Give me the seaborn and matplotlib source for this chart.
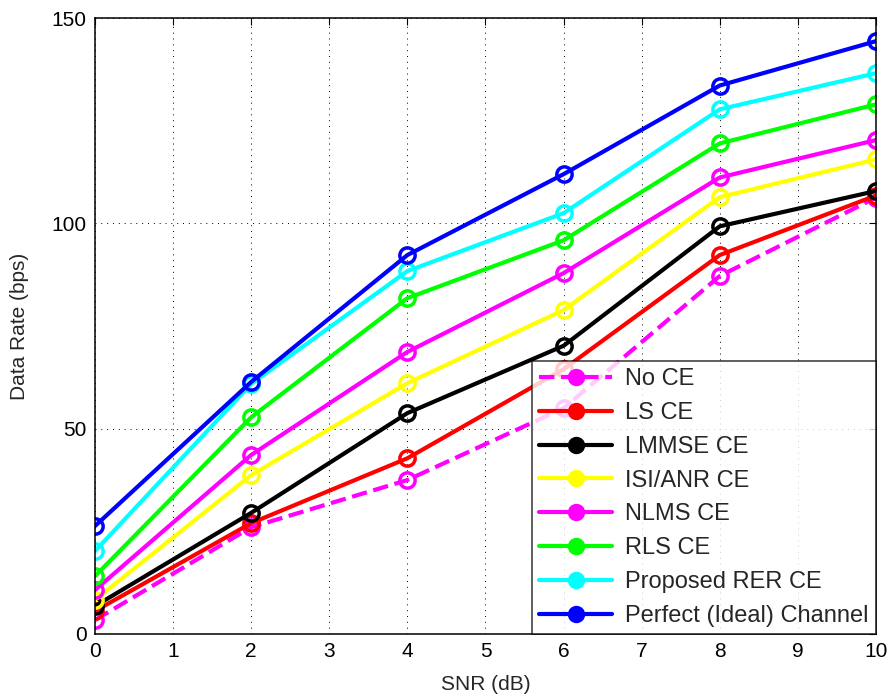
import matplotlib
matplotlib.use("Agg")
import matplotlib.pyplot as plt
import seaborn as sns
import pandas as pd

snr = [0, 2, 4, 6, 8, 10]
labels = ["No CE", "LS CE", "LMMSE CE", "ISI/ANR CE", "NLMS CE", "RLS CE",
          "Proposed RER CE", "Perfect (Ideal) Channel"]
no_ce = [3.4, 26.0, 37.5, 55.0, 87.2, 106.3]
ls_ce = [5.6, 27.0, 42.8, 64.5, 92.3, 106.8]
lmmse_ce = [6.8, 29.5, 53.8, 70.2, 99.3, 107.9]
isi_anr_ce = [8.3, 38.7, 61.1, 78.9, 106.4, 115.6]
nlms_ce = [10.7, 43.6, 68.7, 87.9, 111.2, 120.3]
rls_ce = [14.1, 52.8, 81.8, 95.9, 119.5, 129.0]
rer_ce = [20.2, 60.9, 88.4, 102.5, 127.8, 136.6]
perfect = [26.3, 61.4, 92.3, 112.0, 133.6, 144.4]
series = [no_ce, ls_ce, lmmse_ce, isi_anr_ce, nlms_ce, rls_ce, rer_ce, perfect]
colors = ["#ff00ff", "#ff0000", "#000000", "#ffff00", "#ff00ff", "#00ff00",
          "#00ffff", "#0000ff"]
styles = ["--", "-", "-", "-", "-", "-", "-", "-"]

sns.set_style("white")
plt.rcParams["font.family"] = ["Liberation Sans", "DejaVu Sans"]

fig = plt.figure(figsize=(8.92, 6.99), dpi=100)
ax = fig.add_axes([0.1065, 0.093, 0.8755, 0.881])

for lab, vals, c, ls in zip(labels, series, colors, styles):
    df = pd.DataFrame({"snr": snr, "rate": vals})
    sns.lineplot(data=df, x="snr", y="rate", ax=ax, color=c, linestyle=ls,
                 linewidth=3.0, marker="o", markersize=11, markerfacecolor="none",
                 markeredgecolor=c, markeredgewidth=2.5, label=lab,
                 dashes=False if ls == "-" else (3.5, 2.2))

ax.set_xlim(0, 10)
ax.set_ylim(0, 150)
ax.set_xticks(range(0, 11))
ax.set_yticks([0, 50, 100, 150])
ax.grid(True, color="black", linestyle=(0, (1, 5)), linewidth=0.7)
for s in ax.spines.values():
    s.set_color("black")
    s.set_linewidth(1.1)
ax.tick_params(direction="in", length=5, width=0.8, labelsize=15, colors="black",
               top=True, right=True, pad=6)
ax.set_xlabel("SNR (dB)", fontsize=15, labelpad=10)
ax.set_ylabel("Data Rate (bps)", fontsize=15, labelpad=16)

leg = ax.legend(loc="lower right", borderaxespad=0, fontsize=17, frameon=True,
                fancybox=False, edgecolor="black", handlelength=3.1,
                labelspacing=0.5, borderpad=0.3, handletextpad=0.55)
leg.get_frame().set_linewidth(1.1)
for h in leg.legend_handles:
    h.set_markerfacecolor(h.get_color())
    h.set_markersize(10)

fig.savefig("out.png", dpi=100)
